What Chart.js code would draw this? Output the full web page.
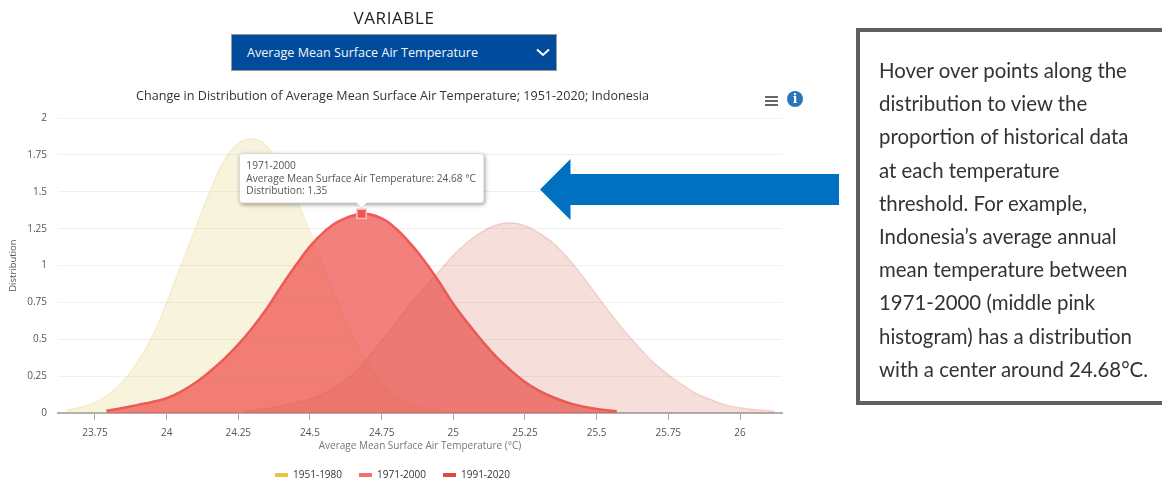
<!DOCTYPE html>
<html><head><meta charset="utf-8">
<script src="https://cdn.jsdelivr.net/npm/chart.js@4"></script>
<style>
html,body{margin:0;padding:0;background:#fff;width:1162px;height:480px;overflow:hidden;font-family:"Open Sans",sans-serif}
#wrap{position:absolute;left:0;top:0;width:788px;height:490px}
#var{position:absolute;left:231px;width:326px;top:8px;text-align:center;font-size:17px;color:#222;line-height:20px;letter-spacing:.6px}
#dd{position:absolute;left:231px;top:34px;width:324px;height:35px;background:#004B9B;border:1px solid #9a9a9a;color:#f2f6fb;font-size:12.6px;line-height:35px;text-indent:15px}
#dd svg{position:absolute;left:304px;top:13px}
#menu{position:absolute;left:765px;top:96px;width:13px}
#menu div{height:2px;background:#666;margin-bottom:2px}
#info{position:absolute;left:787px;top:91px;width:16px;height:16px;border-radius:50%;background:#2a75b8;color:#fff;font:bold 12px/16px "DejaVu Serif",serif;text-align:center}
#arrow{position:absolute;left:0;top:0}
#box{position:absolute;left:856px;top:28px;width:306px;height:369px;border:4px solid #5f5f5f;border-right:none;}
#txt{position:absolute;left:879px;top:54px;font-family:"Lato",sans-serif;font-size:20.4px;line-height:33.2px;color:#333;white-space:nowrap}
</style></head>
<body>
<div id="wrap"><canvas id="c" width="788" height="490" style="width:788px;height:490px"></canvas></div>
<div id="var">VARIABLE</div>
<div id="dd">Average Mean Surface Air Temperature<svg width="14" height="9" viewBox="0 0 14 9"><path d="M1 1.5 L7 7 L13 1.5" fill="none" stroke="#fff" stroke-width="2"/></svg></div>
<div id="menu"><div></div><div></div><div></div></div>
<div id="info">i</div>
<svg id="arrow" width="1162" height="480"><polygon points="540,189.5 570.5,159 570.5,174 839,174 839,205 570.5,205 570.5,220" fill="#0070C0"/></svg>
<div id="box"></div>
<div id="txt">Hover over points along the<br>distribution to view the<br>proportion of historical data<br>at each temperature<br>threshold. For example,<br>Indonesia’s average annual<br>mean temperature between<br>1971-2000 (middle pink<br>histogram) has a distribution<br>with a center around 24.68°C.</div>
<script>
const seriesNames = ["1951-1980","1971-2000","1991-2020"];
const xTicks = [23.75,24,24.25,24.5,24.75,25,25.25,25.5,25.75,26];
const yTicks = [0,0.25,0.5,0.75,1,1.25,1.5,1.75,2];

const temps1951 = [23.65,23.7,23.75,23.8,23.85,23.9,23.95,24.0,24.05,24.1,24.15,24.2,24.25,24.3,24.35,24.4,24.45,24.5,24.55,24.6,24.65,24.7,24.75,24.8,24.85,24.9,24.97];
const dist1951  = [0.02,0.04,0.07,0.13,0.22,0.35,0.52,0.75,1.0,1.25,1.5,1.71,1.83,1.86,1.81,1.66,1.46,1.23,0.98,0.74,0.52,0.34,0.21,0.12,0.06,0.03,0.008];

const temps1971 = [23.79,23.85,23.9,23.95,24.0,24.05,24.1,24.15,24.2,24.25,24.3,24.35,24.4,24.45,24.5,24.55,24.6,24.68,24.75,24.8,24.85,24.9,24.95,25.0,25.05,25.1,25.15,25.2,25.25,25.3,25.35,25.4,25.45,25.5,25.57];
const dist1971  = [0.015,0.035,0.055,0.075,0.1,0.145,0.205,0.28,0.365,0.465,0.58,0.71,0.86,1.0,1.13,1.23,1.3,1.35,1.32,1.25,1.15,1.03,0.89,0.74,0.61,0.49,0.38,0.29,0.21,0.15,0.105,0.07,0.045,0.028,0.012];

const temps1991 = [24.27,24.35,24.4,24.45,24.5,24.55,24.6,24.65,24.7,24.75,24.8,24.85,24.9,24.95,25.0,25.05,25.1,25.15,25.2,25.25,25.3,25.35,25.4,25.45,25.5,25.55,25.6,25.65,25.7,25.75,25.8,25.85,25.9,25.95,26.0,26.06,26.12];
const dist1991  = [0.012,0.03,0.05,0.072,0.095,0.135,0.19,0.265,0.37,0.49,0.61,0.74,0.85,0.96,1.07,1.16,1.23,1.275,1.29,1.27,1.22,1.15,1.05,0.93,0.8,0.67,0.55,0.44,0.34,0.26,0.19,0.13,0.09,0.055,0.035,0.022,0.013];

const hoverIndex = temps1971.indexOf(24.68);
const zip = (a,b)=>a.map((x,i)=>({x,y:b[i]}));
const tickFont = {family:'"Open Sans"',size:10};

const boxShadow = {
  id:'boxShadow',
  beforeTooltipDraw(chart,args){
    const t=args.tooltip, c=chart.ctx;
    c.save();
    c.shadowColor='rgba(0,0,0,.45)';c.shadowBlur=4;c.shadowOffsetX=1;c.shadowOffsetY=1.5;
    c.fillStyle='#fff';
    c.beginPath();c.roundRect(t.x,t.y,t.width,t.height,3);c.fill();
    c.restore();
  }
};

const chart = new Chart(document.getElementById('c'),{
  type:'line',
  plugins:[boxShadow],
  data:{datasets:[
    {label:seriesNames[0],data:zip(temps1951,dist1951),order:3,backgroundColor:'rgba(220,195,80,.2)',borderColor:'rgba(220,195,80,.2)',borderWidth:1.5,fill:'origin',pointRadius:0,legendColor:'#E3C73E'},
    {label:seriesNames[1],data:zip(temps1971,dist1971),order:2,backgroundColor:'rgba(238,86,82,.75)',borderColor:'#EE5A58',borderWidth:2.5,fill:'origin',legendColor:'#F27171',
      pointStyle:'rect',pointRadius:c=>c.dataIndex===hoverIndex?6.6:0,pointBackgroundColor:'#F05252',pointBorderColor:'#F9BDBB',pointBorderWidth:1.5},
    {label:seriesNames[2],data:zip(temps1991,dist1991),order:1,backgroundColor:'rgba(210,90,75,.2)',borderColor:'rgba(210,90,75,.2)',borderWidth:1.5,fill:'origin',pointRadius:0,legendColor:'#E0493F'}
  ]},
  options:{
    responsive:false,animation:false,events:[],
    layout:{padding:{top:89,right:6,left:3,bottom:0}},
    elements:{line:{tension:.4}},
    plugins:{
      title:{display:true,text:'Change in Distribution of Average Mean Surface Air Temperature; 1951-2020; Indonesia',font:{family:'"Open Sans"',size:12.6,weight:'normal'},color:'#333',padding:{top:0,bottom:14}},
      legend:{position:'bottom',labels:{font:{family:'"Open Sans"',size:10},color:'#333',boxWidth:13,boxHeight:4,padding:17,
        generateLabels:ch=>ch.data.datasets.map((d,i)=>({text:d.label,fillStyle:d.legendColor,strokeStyle:d.legendColor,lineWidth:0,datasetIndex:i,fontColor:'#333'}))}},
      tooltip:{enabled:true,mode:'nearest',position:'nearest',yAlign:'bottom',xAlign:'center',backgroundColor:'#fff',borderColor:'#d8d8d8',borderWidth:1,cornerRadius:3,caretSize:5,caretPadding:6,
        titleColor:'#555',bodyColor:'#555',titleFont:{family:'"Open Sans"',size:10.1,weight:'normal'},bodyFont:{family:'"Open Sans"',size:10.1},titleMarginBottom:1,bodySpacing:0,padding:{left:7,right:8,top:6,bottom:6},displayColors:false,
        callbacks:{title:it=>it[0].dataset.label,label:it=>['Average Mean Surface Air Temperature: '+it.parsed.x+' °C','Distribution: '+it.parsed.y]}}
    },
    scales:{
      x:{type:'linear',min:23.621,max:26.1465,
        afterBuildTicks:a=>{a.ticks=xTicks.map(v=>({value:v}))},
        ticks:{font:tickFont,color:'#555',maxRotation:0,padding:7,callback:v=>String(v)},
        grid:{display:true,drawOnChartArea:false,drawTicks:true,tickLength:7,color:'#aaa',tickColor:'#aaa'},
        border:{display:true,color:'#b0b0b0',width:2},
        title:{display:true,text:'Average Mean Surface Air Temperature (°C)',font:{family:'"Open Sans"',size:10,weight:'normal'},color:'#777',padding:{top:-6,bottom:1}}},
      y:{min:0,max:2,
        afterBuildTicks:a=>{a.ticks=yTicks.map(v=>({value:v}))},
        afterFit:a=>{a.width=55},
        ticks:{font:tickFont,color:'#555',padding:11,callback:v=>String(v)},
        grid:{color:'#f0f0f0',drawTicks:false},
        border:{display:false},
        title:{display:true,text:'Distribution',font:{family:'"Open Sans"',size:9.5},color:'#555',padding:{top:5,bottom:0}}}
    }
  }
});
const el = chart.getDatasetMeta(1).data[hoverIndex];
chart.tooltip.setActiveElements([{datasetIndex:1,index:hoverIndex}],{x:el.x,y:el.y});
chart.update();
</script>
</body></html>
